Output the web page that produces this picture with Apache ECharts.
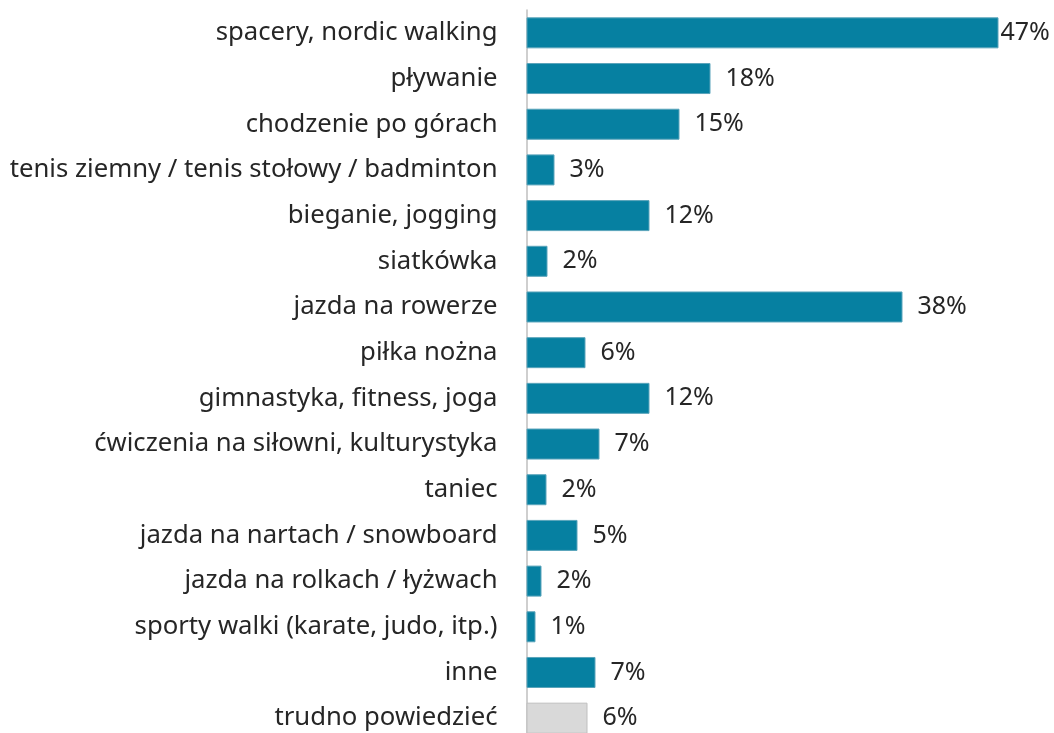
<!DOCTYPE html>
<html>
<head>
<meta charset="utf-8">
<script src="https://cdn.jsdelivr.net/npm/echarts@6/dist/echarts.min.js"></script>
<style>
  html, body { margin: 0; padding: 0; background: #fff; overflow: hidden; }
  /* the last category band runs a little past the bottom edge of the picture */
  #chart { width: 1054px; height: 741px; }
</style>
</head>
<body>
<div id="chart"></div>
<script>
// categories top to bottom
let categories = [
  'spacery, nordic walking',
  'pływanie',
  'chodzenie po górach',
  'tenis ziemny / tenis stołowy / badminton',
  'bieganie, jogging',
  'siatkówka',
  'jazda na rowerze',
  'piłka nożna',
  'gimnastyka, fitness, joga',
  'ćwiczenia na siłowni, kulturystyka',
  'taniec',
  'jazda na nartach / snowboard',
  'jazda na rolkach / łyżwach',
  'sporty walki (karate, judo, itp.)',
  'inne',
  'trudno powiedzieć'
];
// percent values
let values = [47.2, 18.4, 15.3, 2.8, 12.3, 2.1, 37.6, 5.9, 12.3, 7.3, 2.0, 5.1, 1.5, 0.9, 6.9, 6.1];

let teal = '#0680a1';
let grey = '#d9d9d9';
let textColor = '#262626';
let fontFamily = '"Noto Sans", sans-serif';

let chart = echarts.init(document.getElementById('chart'), null, { renderer: 'canvas' });

let seriesData = values.map(function (v, i) {
  let last = i === values.length - 1;
  let item = {
    value: v,
    itemStyle: {
      color: last ? grey : teal,
      borderColor: last ? '#bfbfbf' : '#5aa4bb',
      borderWidth: 1
    }
  };
  // the longest bar's label is squeezed against the right edge
  if (i === 0) {
    item.label = { distance: 2 };
  }
  return item;
});

let option = {
  animation: false,
  grid: {
    left: 526.5,
    top: 10,
    width: 500,
    bottom: 0
  },
  xAxis: {
    type: 'value',
    min: 0,
    max: 50,
    show: false
  },
  yAxis: {
    type: 'category',
    inverse: true,
    data: categories,
    axisTick: { show: false },
    axisLine: {
      lineStyle: { color: '#bfbfbf', width: 1.5 }
    },
    axisLabel: {
      color: textColor,
      fontFamily: fontFamily,
      fontSize: 25.7,
      margin: 29
    }
  },
  series: [{
    type: 'bar',
    barWidth: 31,
    data: seriesData,
    label: {
      show: true,
      position: 'right',
      distance: 15,
      color: textColor,
      fontFamily: fontFamily,
      fontSize: 25,
      formatter: function (p) {
        return Math.round(p.value) + '%';
      }
    }
  }]
};

chart.setOption(option);
</script>
</body>
</html>
